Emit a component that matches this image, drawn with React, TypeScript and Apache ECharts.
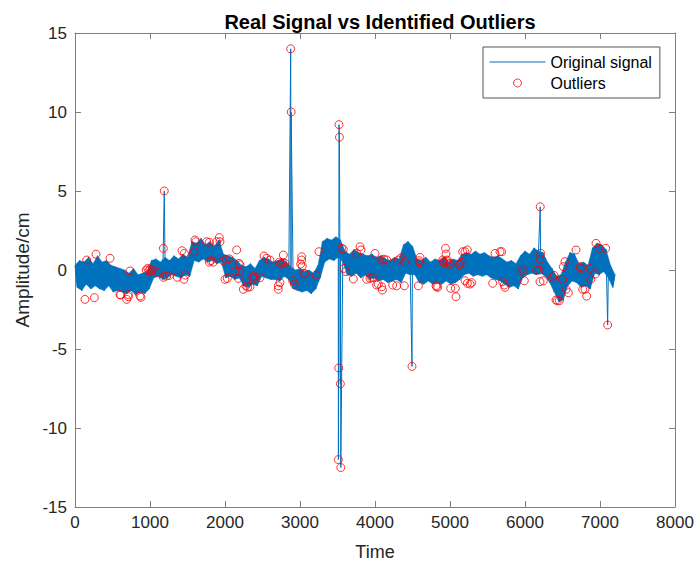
import React, { useEffect, useRef } from 'react';
import * as echarts from 'echarts';

// Signal band, one value every SIGNAL_STEP time units (alternating high/low of the noisy band)
const SIGNAL_STEP = 30;
const signalValues: number[] = [
  // 0 - 270
  0.3, -1.1, 0.6, -1.3, 0.5, -0.9, 0.8, -1.2, 0.4, -1.0,
  // 300 - 570
  0.9, -1.2, 0.5, -1.3, 0.6, -1.0, 0.3, -1.4, 0.2, -1.3,
  // 600 - 870
  0.1, -1.4, 0.0, -1.5, -0.2, -1.3, 0.1, -1.6, -0.3, -1.4,
  // 900 - 1170
  -0.2, -1.5, -0.1, -1.2, 0.6, -0.5, 0.7, -0.4, 0.5, -0.6,
  // 1200 - 1470
  0.8, -0.5, 0.6, -0.3, 0.9, -0.4, 0.7, -0.5, 1.0, -0.3,
  // 1500 - 1770
  0.8, -0.4, 1.8, 0.6, 1.7, 0.5, 2.0, 0.7, 1.6, 0.5,
  // 1800 - 2070
  1.8, 0.6, 1.5, 0.4, 1.9, 0.5, 1.0, -0.5, 0.9, -0.4,
  // 2100 - 2370
  0.8, -0.6, 0.6, -0.5, 0.3, -1.0, 0.2, -1.1, 0.4, -0.9,
  // 2400 - 2670
  0.1, -1.0, 0.6, -0.4, 0.8, -0.5, 0.7, -0.6, 0.5, -0.6,
  // 2700 - 2970
  0.6, -0.7, 0.7, -0.4, 0.5, -0.6, 0.2, -1.2, 0.0, -1.3,
  // 3000 - 3270
  0.1, -1.4, -0.1, -1.3, 0.0, -1.5, -0.2, -1.2, 0.3, -0.5,
  // 3300 - 3570
  1.8, 0.5, 2.0, 0.7, 1.9, 0.6, 2.1, 0.8, 1.9, 0.5,
  // 3600 - 3870
  1.2, -0.3, 1.0, -0.4, 1.3, -0.2, 1.1, -0.5, 1.0, -0.3,
  // 3900 - 4170
  0.9, -0.6, 1.0, -0.5, 0.8, -0.7, 0.9, -0.6, 0.7, -0.8,
  // 4200 - 4470
  0.6, -0.7, 0.8, -0.6, 0.7, -0.8, 1.6, -0.2, 1.8, -0.3,
  // 4500 - 4770
  1.5, -0.3, 0.7, -0.8, 0.6, -0.9, 0.8, -0.7, 0.5, -0.9,
  // 4800 - 5070
  0.7, -0.8, 0.6, -0.9, 0.8, -0.7, 0.5, -0.9, 0.7, -0.8,
  // 5100 - 5370
  0.6, -0.6, 1.0, -0.3, 1.1, -0.2, 1.0, -0.4, 1.2, -0.3,
  // 5400 - 5670
  1.0, -0.4, 1.1, -0.3, 0.9, -0.5, 0.8, -0.6, 0.9, -0.7,
  // 5700 - 5970
  0.7, -0.9, 0.5, -1.1, 0.6, -1.0, 0.4, -1.2, 0.9, -0.5,
  // 6000 - 6270
  1.2, -0.3, 1.0, -0.2, 1.4, -0.3, 1.2, -0.2, 1.1, -0.4,
  // 6300 - 6570
  0.5, -0.8, 0.1, -1.4, -0.4, -2.0, -0.3, -1.9, 0.5, -1.0,
  // 6600 - 6870
  1.1, -0.7, 1.0, -0.8, 0.4, -1.1, 0.5, -1.0, 0.3, -1.2,
  // 6900 - 7170
  1.4, -0.2, 1.7, -0.3, 1.6, -0.1, 1.3, -0.5, 0.3, -1.1,
  // 7200
  -0.3,
];

// Isolated spikes in the signal [time, amplitude]
const spikePoints: [number, number][] = [
  [1190, 5.0], [2876, 14.0], [2882, 10.0], [3512, -12.0], [3516, -6.2],
  [3520, 9.2], [3526, 8.4], [3538, -7.2], [3544, -12.5], [4493, -6.1],
  [6203, 4.0], [7102, -3.48],
];

// Identified outliers [time, amplitude]
const outlierPoints: [number, number][] = [
  [133, -1.86], [156, 0.63], [258, -1.75], [280, 1.0], [467, 0.74], [600, -1.56], [608, -1.58],
  [689, -1.86], [711, -1.56], [711, -1.69], [733, -0.06], [867, -1.65], [880, -1.73],
  [950, 0.0], [970, 0.1], [985, -0.05], [1000, 0.05], [1015, -0.1], [1030, 0.0],
  [1111, -0.17], [1178, 1.37], [1178, -0.46], [1190, 5.0], [1222, -0.38], [1258, -0.34],
  [1364, -0.46], [1427, 1.22], [1458, 1.05], [1453, -0.59], [1471, -0.32], [1587, 1.16],
  [1600, 1.9], [1610, 1.79], [1756, 1.79], [1791, 1.75], [1791, 0.5], [1809, 0.59], [1844, 0.5],
  [1889, 1.79], [1924, 2.05], [1933, 1.79], [1978, 0.57], [2000, -0.59], [2013, 0.68],
  [2031, -0.53], [2058, 0.7], [2133, -0.1], [2156, 1.27], [2178, -0.53], [2187, 0.42],
  [2191, -0.1], [2200, 0.32], [2244, -1.22], [2280, -1.0], [2302, -1.1], [2333, -1.06],
  [2369, -0.46], [2387, -0.38], [2400, -0.53], [2467, -0.49], [2520, 0.89], [2556, 0.74],
  [2600, 0.63], [2711, -1.0], [2711, -1.22], [2724, 0.5], [2733, -0.8], [2742, 0.38],
  [2769, 0.46], [2778, 0.95], [2800, 0.42], [2876, 14.0], [2882, 10.0], [2902, -0.68],
  [2924, -0.9], [3009, 0.38], [3022, 0.84], [3022, 0.63], [3031, 0.25], [3053, -0.21],
  [3067, -0.25], [3213, -0.32], [3253, 1.16], [3512, -12.0], [3516, -6.2], [3520, 9.2],
  [3526, 8.4], [3538, -7.2], [3544, -12.5], [3556, 1.37], [3578, 1.31], [3587, 0.1],
  [3609, -0.1], [3711, -0.57], [3756, 1.05], [3800, 1.47], [3813, 1.27], [3889, -0.59],
  [3933, -0.53], [3956, -0.49], [3978, -0.46], [4000, 1.05], [4022, -0.95], [4044, -0.9],
  [4089, -1.06], [4098, -1.27], [4089, 0.63], [4120, 0.68], [4156, 0.63], [4236, -0.95],
  [4289, -1.0], [4311, 0.63], [4342, 0.74], [4391, -1.0], [4400, 0.53], [4493, -6.1],
  [4578, -1.0], [4591, 0.59], [4600, 0.8], [4600, 0.46], [4813, -1.0], [4822, -1.06],
  [4836, -1.1], [4902, 0.63], [4911, 0.53], [4920, 0.46], [4940, 1.37], [4947, 1.01],
  [4956, 0.57], [4964, 0.63], [4991, 0.42], [5000, 0.36], [5009, -1.16], [5071, -1.16],
  [5080, -1.69], [5124, 0.32], [5133, 0.36], [5156, 0.49], [5169, 1.16], [5200, 1.16],
  [5231, 1.27], [5200, -0.68], [5231, -0.84], [5267, -0.89], [5289, -0.8], [5569, -0.84],
  [5600, 1.05], [5667, 1.16], [5689, 1.16], [5702, -0.74], [5724, -0.95], [5733, -1.1],
  [5956, 0.04], [5978, -0.1], [5991, -0.68], [6156, 0.0], [6191, 0.0], [6203, 4.0],
  [6200, 0.68], [6209, 1.05], [6200, -0.74], [6244, -0.68], [6369, -0.46], [6387, -0.34],
  [6413, -1.9], [6431, -1.94], [6458, -1.94], [6502, -0.59], [6511, 0.21], [6533, 0.53],
  [6547, -1.22], [6578, -1.44], [6680, 1.27], [6733, 0.21], [6742, 0.1], [6769, -1.22],
  [6800, -1.22], [6822, -1.65], [6867, 0.1], [6876, -0.59], [6938, -0.25], [6947, 1.69],
  [6991, 1.37], [7076, 1.37], [7102, -3.48],
];

const X_MIN = 0, X_MAX = 8000, X_STEP = 1000;
const Y_MIN = -15, Y_MAX = 15, Y_STEP = 5;

const TITLE = 'Real Signal vs Identified Outliers';
const X_NAME = 'Time';
const Y_NAME = 'Amplitude/cm';
const SERIES_SIGNAL = 'Original signal';
const SERIES_OUTLIERS = 'Outliers';

const FONT = '"Liberation Sans", Arial, Helvetica, sans-serif';
const AXIS_COLOR = '#808080';
const TEXT_COLOR = '#262626';
const SIGNAL_COLOR = '#0072BD';

export default function App() {
  const ref = useRef<HTMLDivElement>(null);

  useEffect(() => {
    if (!ref.current) return;
    const chart = echarts.init(ref.current, undefined, { renderer: 'svg' });

    const base: [number, number][] = signalValues.map((v, i) => [i * SIGNAL_STEP, v]);
    const signalData = [...base, ...spikePoints].sort((a, b) => a[0] - b[0]);

    const axisCommon = {
      type: 'value' as const,
      axisLine: { show: true, onZero: false, lineStyle: { color: AXIS_COLOR, width: 1 } },
      axisTick: { show: true, inside: true, length: 6, lineStyle: { color: AXIS_COLOR, width: 1 } },
      splitLine: { show: false },
    };

    chart.setOption({
      animation: false,
      backgroundColor: '#ffffff',
      textStyle: { fontFamily: FONT },
      title: {
        text: TITLE,
        left: 375,
        textAlign: 'center',
        top: 7,
        textStyle: { fontSize: 20, fontWeight: 'bold', color: '#000000', fontFamily: FONT },
      },
      grid: { left: 75, right: 20, top: 33, bottom: 55, containLabel: false, outerBoundsMode: 'none' },
      legend: {
        left: 483,
        top: 47,
        orient: 'vertical',
        padding: [7, 8, 7, 6],
        itemGap: 5,
        itemWidth: 56,
        itemHeight: 8,
        borderColor: '#555555',
        borderWidth: 1,
        borderRadius: 0,
        backgroundColor: '#ffffff',
        lineStyle: { width: 1 },
        textStyle: { fontSize: 16, color: '#000000', fontFamily: FONT },
        data: [
          { name: SERIES_SIGNAL, itemStyle: { opacity: 0 }, lineStyle: { width: 1, color: SIGNAL_COLOR } },
          { name: SERIES_OUTLIERS, itemStyle: { color: 'rgba(0,0,0,0)', borderColor: '#FF0000', borderWidth: 1 } },
        ],
      },
      xAxis: [
        {
          ...axisCommon,
          min: X_MIN, max: X_MAX, interval: X_STEP,
          position: 'bottom',
          axisLabel: { color: TEXT_COLOR, fontSize: 17, margin: 7, fontFamily: FONT, formatter: (v: number) => String(v) },
          name: X_NAME,
          nameLocation: 'middle',
          nameGap: 36,
          nameTextStyle: { fontSize: 18, color: TEXT_COLOR, fontFamily: FONT },
        },
        {
          ...axisCommon,
          min: X_MIN, max: X_MAX, interval: X_STEP,
          position: 'top',
          axisLabel: { show: false },
        },
      ],
      yAxis: [
        {
          ...axisCommon,
          min: Y_MIN, max: Y_MAX, interval: Y_STEP,
          position: 'left',
          axisLabel: { color: TEXT_COLOR, fontSize: 17, margin: 8, fontFamily: FONT, formatter: (v: number) => String(v) },
          name: Y_NAME,
          nameLocation: 'middle',
          nameGap: 43,
          nameTextStyle: { fontSize: 19, color: TEXT_COLOR, fontFamily: FONT },
        },
        {
          ...axisCommon,
          min: Y_MIN, max: Y_MAX, interval: Y_STEP,
          position: 'right',
          axisLabel: { show: false },
        },
      ],
      series: [
        {
          // filled envelope of the noisy band: highs (even entries) on top, lows (odd entries) below
          name: 'signal band',
          type: 'custom',
          data: base,
          clip: true,
          silent: true,
          renderItem: (params: any, api: any) => {
            if (params.dataIndex !== 0) return null;
            const pts: number[][] = [];
            for (let i = 0; i < signalValues.length; i += 2) {
              pts.push(api.coord([i * SIGNAL_STEP, signalValues[i]]));
            }
            const lastOdd = signalValues.length % 2 === 0 ? signalValues.length - 1 : signalValues.length - 2;
            for (let i = lastOdd; i >= 1; i -= 2) {
              pts.push(api.coord([i * SIGNAL_STEP, signalValues[i]]));
            }
            return { type: 'polygon', shape: { points: pts }, style: { fill: SIGNAL_COLOR, stroke: SIGNAL_COLOR, lineWidth: 0.5 } };
          },
          z: 1,
        },
        {
          name: SERIES_SIGNAL,
          type: 'line',
          data: signalData,
          symbol: 'none',
          showSymbol: false,
          lineStyle: { color: SIGNAL_COLOR, width: 1 },
          itemStyle: { color: SIGNAL_COLOR },
          z: 2,
        },
        {
          name: SERIES_OUTLIERS,
          type: 'scatter',
          data: outlierPoints,
          symbol: 'circle',
          symbolSize: 8,
          itemStyle: { color: 'rgba(0,0,0,0)', borderColor: '#FF0000', borderWidth: 1 },
          z: 3,
        },
      ],
    });

    return () => chart.dispose();
  }, []);

  return (
    <div
      ref={ref}
      style={{ position: 'fixed', left: 0, top: 0, width: 695, height: 562, background: '#ffffff' }}
    />
  );
}
